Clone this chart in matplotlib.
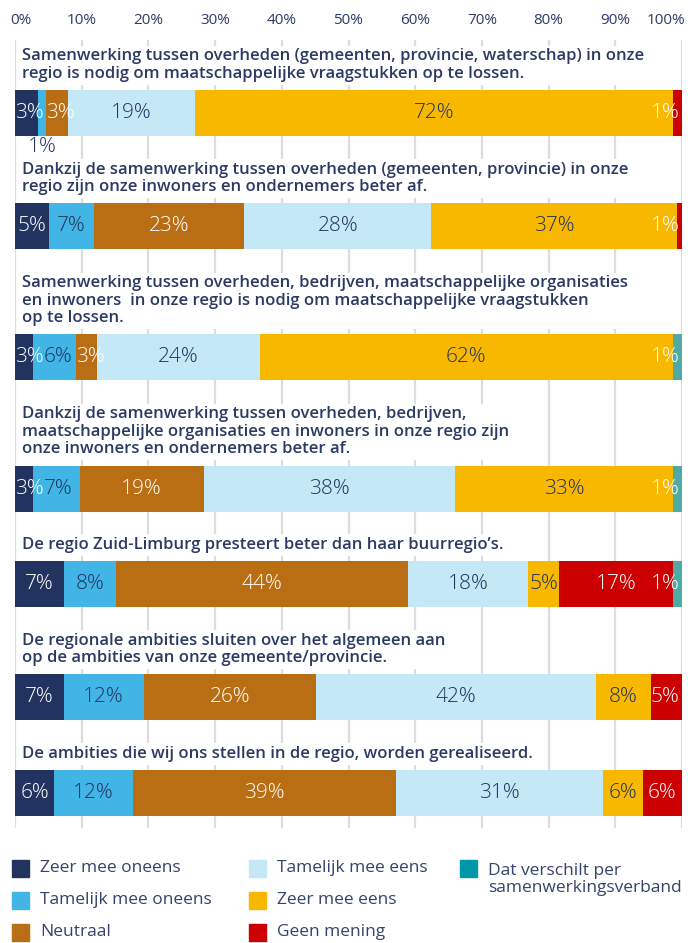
import matplotlib.pyplot as plt
from matplotlib.patches import Rectangle
from matplotlib.transforms import ScaledTranslation

# stellingen (titels boven de balken)
stellingen = [
    "Samenwerking tussen overheden (gemeenten, provincie, waterschap) in onze\nregio is nodig om maatschappelijke vraagstukken op te lossen.",
    "Dankzij de samenwerking tussen overheden (gemeenten, provincie) in onze\nregio zijn onze inwoners en ondernemers beter af.",
    "Samenwerking tussen overheden, bedrijven, maatschappelijke organisaties\nen inwoners  in onze regio is nodig om maatschappelijke vraagstukken\nop te lossen.",
    "Dankzij de samenwerking tussen overheden, bedrijven,\nmaatschappelijke organisaties en inwoners in onze regio zijn\nonze inwoners en ondernemers beter af.",
    "De regio Zuid-Limburg presteert beter dan haar buurregio’s.",
    "De regionale ambities sluiten over het algemeen aan\nop de ambities van onze gemeente/provincie.",
    "De ambities die wij ons stellen in de regio, worden gerealiseerd.",
]

categorieen = ["Zeer mee oneens", "Tamelijk mee oneens", "Neutraal",
               "Tamelijk mee eens", "Zeer mee eens", "Geen mening",
               "Dat verschilt per\nsamenwerkingsverband"]

# percentages per categorie (per stelling)
zeer_mee_oneens = [3.4, 5.1, 2.7, 2.7, 7.3, 7.3, 5.9]
tamelijk_mee_oneens = [1.3, 6.7, 6.4, 7.0, 7.8, 12.0, 11.8]
neutraal = [3.3, 22.6, 3.2, 18.6, 43.8, 25.8, 39.4]
tamelijk_mee_eens = [19.0, 28.0, 24.4, 37.7, 18.0, 42.0, 31.0]
zeer_mee_eens = [71.6, 36.9, 61.9, 32.6, 4.7, 8.2, 6.0]
geen_mening = [1.4, 0.7, 0.0, 0.0, 17.0, 4.7, 5.9]
verschilt = [0.0, 0.0, 1.4, 1.4, 1.4, 0.0, 0.0]

reeksen = [zeer_mee_oneens, tamelijk_mee_oneens, neutraal, tamelijk_mee_eens,
           zeer_mee_eens, geen_mening, verschilt]

ticks = [0, 10, 20, 30, 40, 50, 60, 70, 80, 90, 100]

navy = "#22335e"
kleuren = ["#21335e", "#41b6e6", "#ba6e14", "#c5e8f7", "#f9b800", "#cc0000", "#4eaaa2"]
legenda_kleuren = ["#21335e", "#41b6e6", "#ba6e14", "#c5e8f7", "#f9b800", "#cc0000", "#0098a8"]
label_kleuren = ["white", navy, "white", navy, navy, "white", "white"]

titel_font = "Open Sans"
label_font = "Open Sans"

fig = plt.figure(figsize=(6.88, 9.43), dpi=100)
W, H = 688, 943
ax = fig.add_axes([15 / W, 1 - 828 / H, 667 / W, 788 / H])
ax.set_xlim(0, 100)
ax.set_ylim(828, 40)
for s in ax.spines.values():
    s.set_visible(False)
ax.set_yticks([])
ax.xaxis.tick_top()
ax.set_xticks(ticks)
ax.set_xticklabels([f"{t}%" for t in ticks], fontsize=11, color="#2b3a67",
                   fontfamily=titel_font)
ax.tick_params(axis="x", length=0, pad=9)
ax.grid(axis="x", color="#dddddd", lw=1.6, zorder=0)
ax.set_axisbelow(True)

# eerste en laatste ticklabel iets naar binnen
lbls = ax.get_xticklabels()
lbls[0].set_transform(lbls[0].get_transform() + ScaledTranslation(0.06, 0, fig.dpi_scale_trans))
lbls[-1].set_transform(lbls[-1].get_transform() + ScaledTranslation(-0.16, 0, fig.dpi_scale_trans))

renderer = fig.canvas.get_renderer()
px_per_unit = ax.bbox.width / 100

bar_h = 46
regel = 17.8
bar_top = 90
for i, vraag in enumerate(stellingen):
    n = vraag.count("\n") + 1
    if i > 0:
        bar_top = bar_top + bar_h + 49.5 + regel * (n - 1)
    eerste = bar_top - 16 - regel * (n - 1)
    midden_titel = eerste + regel * (n - 1) / 2
    ax.text(1.05, midden_titel, vraag, ha="left", va="center", fontsize=12,
            fontweight="semibold", color="#2b3a63", fontfamily=titel_font,
            linespacing=1.1, zorder=3,
            bbox=dict(facecolor="white", edgecolor="none", pad=2))

    yc = bar_top + bar_h / 2
    links = 0
    waarden = [r[i] for r in reeksen]
    laatste = max(k for k, v in enumerate(waarden) if v > 0)
    prev_right = 0
    for k, v in enumerate(waarden):
        if v <= 0:
            continue
        ax.barh(yc, v, left=links, height=bar_h, color=kleuren[k], zorder=2)
        tekst = f"{v:.0f}%"
        if v < 2 and k != laatste:
            ax.text(links + v / 2, bar_top + bar_h + 11, tekst, ha="center", va="center",
                    fontsize=15, fontweight="light", color=navy,
                    fontfamily=label_font, zorder=4)
        else:
            t = ax.text(links + v / 2, yc, tekst, ha="center", va="center",
                        fontsize=15, fontweight="light", color=label_kleuren[k],
                        fontfamily=label_font, zorder=4)
            w = t.get_window_extent(renderer).width / px_per_unit
            x0 = links + v / 2 - w / 2
            if w > v:
                x0 = links
            x0 = max(x0, prev_right)
            if k == laatste:
                x0 = min(x0, 100 - w - 0.4)
            t.set_x(x0)
            t.set_ha("left")
            prev_right = x0 + w
        links += v

# legenda in pixelcoordinaten
lax = fig.add_axes([0, 0, 1, 1])
lax.set_xlim(0, W)
lax.set_ylim(H, 0)
lax.axis("off")
kol_x = [12, 249, 460]
rij_y = [868, 900, 932]
for k, cat in enumerate(categorieen):
    kx = kol_x[k // 3]
    ky = rij_y[k % 3]
    lax.add_patch(Rectangle((kx, ky - 8.5), 17, 17, color=legenda_kleuren[k]))
    if "\n" in cat:
        lax.text(kx + 28, ky - 5, cat, ha="left", va="top", fontsize=12.5,
                 color="#34436c", fontfamily=titel_font, linespacing=1.05)
    else:
        lax.text(kx + 28, ky, cat, ha="left", va="center", fontsize=12.5,
                 color="#34436c", fontfamily=titel_font)

fig.savefig("out.png", dpi=100, facecolor="white")
